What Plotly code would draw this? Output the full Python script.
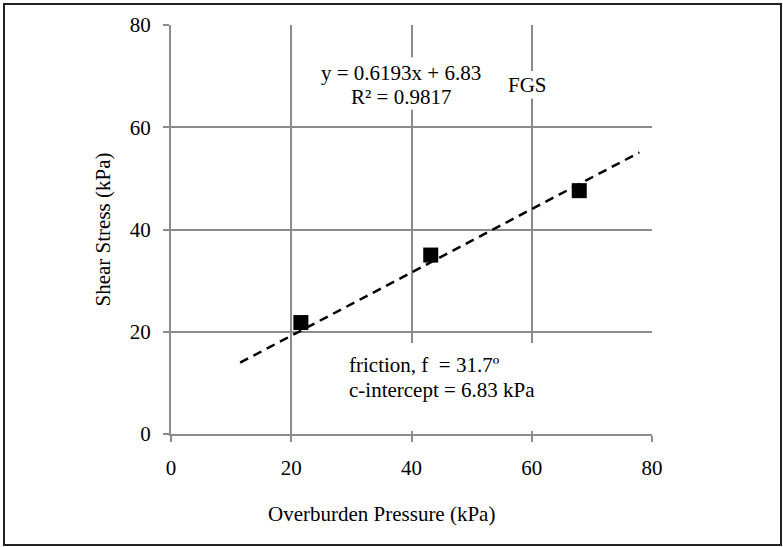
import numpy as np
import plotly.graph_objects as go

# Direct shear results, FGS sample
overburden_kpa = [21.6, 43.2, 67.9]
shear_kpa = [21.8, 35.0, 47.6]

# Linear fit reported on the chart
slope = 0.6193
intercept = 6.83
r_squared = 0.9817
friction_deg = 31.7
fit_x_range = [11.5, 77.9]

x_ticks = [0, 20, 40, 60, 80]
y_ticks = [0, 20, 40, 60, 80]

FONT = "Liberation Serif"
FS = 21
GRID = "#8c8c8c"

fit_x = np.array(fit_x_range)
fit_y = slope * fit_x + intercept

fig = go.Figure()
fig.add_trace(go.Scatter(
    x=fit_x, y=fit_y, mode="lines",
    line=dict(color="black", width=2.5, dash="9px,6px"),
    hoverinfo="skip", showlegend=False,
))
fig.add_trace(go.Scatter(
    x=overburden_kpa, y=shear_kpa, mode="markers",
    marker=dict(symbol="square", size=15, color="black"),
    showlegend=False,
))

axis_common = dict(
    showgrid=True, gridcolor=GRID, gridwidth=2,
    showline=True, linecolor=GRID, linewidth=2,
    ticks="outside", tickcolor=GRID, ticklen=6, tickwidth=2,
    zeroline=False, fixedrange=True,
    tickfont=dict(family=FONT, size=FS, color="black"),
)

def label(text, x, y, xanchor="center"):
    return dict(text=text, x=x, y=y, xref="x", yref="y", xanchor=xanchor,
                yanchor="middle", showarrow=False,
                font=dict(family=FONT, size=FS, color="black"))

def white_box(x0, x1, y0, y1):
    # opaque text-box background that hides the gridlines behind a label
    return dict(type="rect", xref="x", yref="y", x0=x0, x1=x1, y0=y0, y1=y1,
                fillcolor="white", line=dict(width=0), layer="between")

fig.update_layout(
    width=783, height=547,
    margin=dict(l=171, r=131, t=25, b=113),
    paper_bgcolor="white", plot_bgcolor="white",
    font=dict(family=FONT, size=FS, color="black"),
    xaxis=dict(range=[0, 80], tickvals=x_ticks, ticktext=[str(v) for v in x_ticks],
               ticklabelstandoff=8, **axis_common),
    yaxis=dict(range=[0, 80], tickvals=y_ticks, ticktext=[str(v) for v in y_ticks],
               ticklabelstandoff=8, **axis_common),
    annotations=[
        label(f"y = {slope}x + {intercept}", 38.2, 70.7),
        label(f"R² = {r_squared}", 38.2, 66.0),
        label("FGS", 59.3, 68.3),
        label(f"friction, f  = {friction_deg}º", 29.3, 13.4, "left"),
        label(f"c-intercept = {intercept} kPa", 29.3, 8.6, "left"),
        dict(text="Overburden Pressure (kPa)", x=0.4366, y=-0.196,
             xref="paper", yref="paper", xanchor="center", yanchor="middle",
             showarrow=False, font=dict(family=FONT, size=FS)),
        dict(text="Shear Stress (kPa)", x=-0.1414, y=0.5, textangle=-90,
             xref="paper", yref="paper", xanchor="center", yanchor="middle",
             showarrow=False, font=dict(family=FONT, size=FS)),
    ],
    shapes=[
        white_box(24.5, 52.0, 63.4, 73.7),
        white_box(56.2, 62.6, 65.6, 71.0),
        white_box(29.0, 62.0, 0.6, 17.8),
        dict(type="rect", xref="paper", yref="paper",
             x0=(4 - 171) / 481, x1=(781 - 171) / 481,
             y0=-(545 - 434) / 409, y1=(434 - 4) / 409,
             line=dict(color="#222222", width=2), layer="below"),
    ],
)

fig.write_html("out.html")
